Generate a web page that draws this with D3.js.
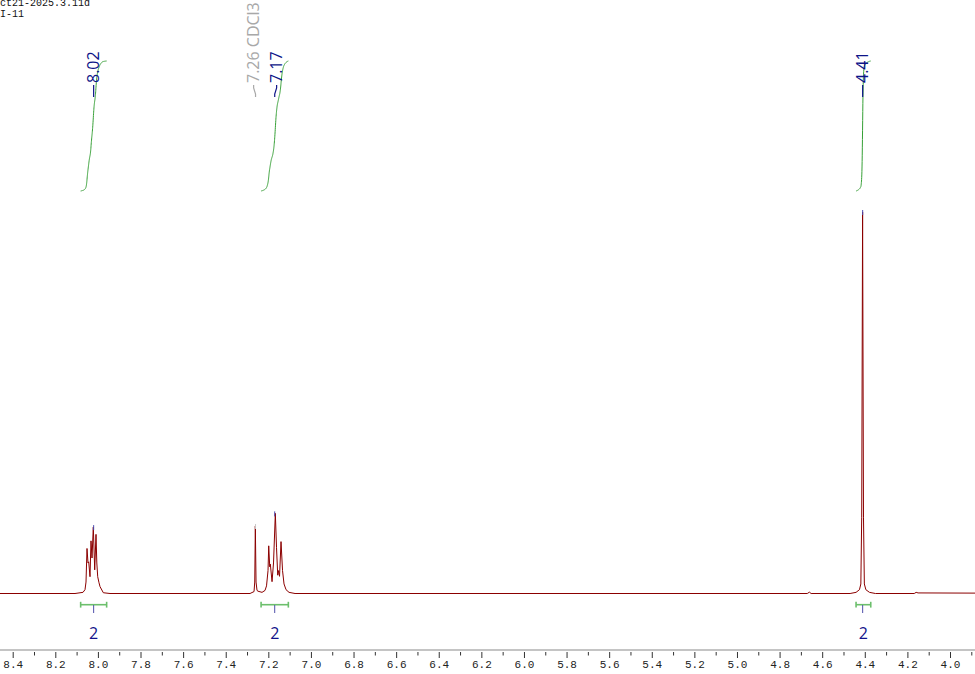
<!DOCTYPE html>
<html><head><meta charset="utf-8">
<script src="https://cdn.jsdelivr.net/npm/d3@7/dist/d3.min.js"></script>
<style>html,body{margin:0;padding:0;background:#fff;overflow:hidden}</style>
</head><body>
<svg id="chart" width="975" height="674"></svg>
<script>
// ---------- DATA ----------
const headerLines = ["ct21-2025.3.11d", "I-11"];
const axisTitle = "f1 (ppm)";

const majorTicks = [8.4, 8.2, 8.0, 7.8, 7.6, 7.4, 7.2, 7.0, 6.8, 6.6, 6.4, 6.2, 6.0, 5.8, 5.6, 5.4, 5.2, 5.0, 4.8, 4.6, 4.4, 4.2, 4.0];
const tickLabels = ["8.4", "8.2", "8.0", "7.8", "7.6", "7.4", "7.2", "7.0", "6.8", "6.6", "6.4", "6.2", "6.0", "5.8", "5.6", "5.4", "5.2", "5.0", "4.8", "4.6", "4.4", "4.2", "4.0"];
const minorTicks = [8.5, 8.3, 8.1, 7.9, 7.7, 7.5, 7.3, 7.1, 6.9, 6.7, 6.5, 6.3, 6.1, 5.9, 5.7, 5.5, 5.3, 5.1, 4.9, 4.7, 4.5, 4.3, 4.1, 3.9];

// spectrum trace: [ppm, relative intensity]
const traceStart = [[8.47, 0]];
const multiplet802 = [
  [8.1075, 0], [8.0700, 0.3], [8.0606, 1.0], [8.0559, 3.0], [8.0512, 11.8], [8.0465, 8.0],
  [8.0432, 8.3], [8.0371, 4.4], [8.0324, 13.8], [8.0277, 9.3], [8.0216, 17.4], [8.0150, 6.2],
  [8.0089, 15.5], [8.0051, 8.0], [8.0009, 4.4], [7.9948, 2.8], [7.9901, 1.8], [7.9746, 0.2], [7.9432, 0]
];
const solvent726 = [
  [7.2859, 0], [7.2671, 0.5], [7.2638, 3.0], [7.2610, 17.7], [7.2577, 3.0], [7.2531, 0.8], [7.2484, 0.6]
];
const multiplet717 = [
  [7.2296, 0.3], [7.2155, 0.8], [7.2085, 2.0], [7.2014, 6.0], [7.1981, 12.5], [7.1934, 7.0],
  [7.1906, 7.7], [7.1826, 3.1], [7.1756, 8.0], [7.1671, 21.0], [7.1615, 12.0], [7.1559, 4.8],
  [7.1521, 6.0], [7.1474, 4.5], [7.1404, 13.6], [7.1333, 6.0], [7.1263, 2.5], [7.1169, 1.0],
  [7.1028, 0.3], [7.0746, 0]
];
const smallBump466 = [[4.670, 0], [4.660, 0.35], [4.652, 0]];
const singlet441 = [
  [4.469, 0], [4.441, 0.3], [4.425, 1.0], [4.4185, 2.5], [4.4145, 20], [4.4103, 100],
  [4.4061, 20], [4.4021, 2.5], [4.395, 1.0], [4.378, 0.3], [4.350, 0]
];
const traceEnd = [[4.168, 0], [4.159, 0.3], [4.150, 0.15], [3.87, 0.1]];

// peak picking
const peakShifts = [8.02, 7.26, 7.17, 4.41];
const peakTexts = ["8.02", "7.26 CDCl3", "7.17", "4.41"];
const peakSolvent = [false, true, false, false];

// integrals
const integralFrom = [8.081, 7.234, 4.441];
const integralTo = [7.959, 7.106, 4.372];
const integralCenters = [8.02, 7.17, 4.41];
const integralValues = ["2", "2", "2"];

// ---------- DRAW ----------
const svg = d3.select("#chart");
const x = d3.scaleLinear().domain([8.4, 4.0]).range([12.7, 950]);
const y = d3.scaleLinear().domain([0, 100]).range([593.5, 212]);

const trace = [].concat(traceStart, multiplet802, solvent726, multiplet717, smallBump466, singlet441, traceEnd)
  .sort((a, b) => b[0] - a[0]);

function valueAt(p) {
  for (let i = 0; i < trace.length - 1; i++) {
    const a = trace[i], b = trace[i + 1];
    if (p <= a[0] && p >= b[0]) {
      const t = (a[0] - p) / (a[0] - b[0]);
      return a[1] + t * (b[1] - a[1]);
    }
  }
  return 0;
}

// header
svg.append("g").selectAll("text").data(headerLines).join("text")
  .attr("x", 0).attr("y", (d, i) => 5.8 + i * 11.2)
  .attr("font-family", "Liberation Mono, monospace").attr("font-size", 10)
  .attr("fill", "#111").text(d => d);

// axis line
svg.append("line").attr("x1", 0).attr("x2", 975).attr("y1", 650).attr("y2", 650)
  .attr("stroke", "#c4c4c4").attr("stroke-width", 2);

const axisMajor = d3.axisBottom(x).tickValues(majorTicks)
  .tickFormat((d, i) => tickLabels[i]).tickSize(6).tickPadding(2);
const gMaj = svg.append("g").attr("transform", "translate(0,652)").call(axisMajor);
gMaj.select(".domain").remove();
gMaj.selectAll("line").attr("stroke", "#333");
gMaj.selectAll("text").attr("font-family", "Liberation Mono, monospace")
  .attr("font-size", 11).attr("fill", "#222");

const axisMinor = d3.axisBottom(x).tickValues(minorTicks).tickFormat("").tickSize(3.5);
const gMin = svg.append("g").attr("transform", "translate(0,652)").call(axisMinor);
gMin.select(".domain").remove();
gMin.selectAll("line").attr("stroke", "#333");

svg.append("text").attr("x", 497).attr("y", 682).attr("text-anchor", "middle")
  .attr("font-family", "Liberation Mono, monospace").attr("font-size", 11)
  .attr("fill", "#777").text(axisTitle);

// spectrum
const line = d3.line().x(d => x(d[0])).y(d => y(d[1]));
svg.append("path").datum(trace).attr("d", line)
  .attr("fill", "none").attr("stroke", "#8b0000").attr("stroke-width", 1)
  .attr("stroke-linejoin", "round");

// integrals
const intTop = 61, intBottom = 191;
integralFrom.forEach((a, k) => {
  const b = integralTo[k];
  const step = 0.0005;
  const pts = [];
  let cum = 0, prev = valueAt(a);
  pts.push([a, 0]);
  for (let p = a - step; p >= b - 1e-9; p -= step) {
    const v = valueAt(p);
    cum += (prev + v) / 2 * step;
    prev = v;
    pts.push([p, cum]);
  }
  const total = cum || 1;
  const iy = d3.scaleLinear().domain([0, total]).range([intBottom, intTop]);
  svg.append("path").datum(pts)
    .attr("d", d3.line().x(d => x(d[0])).y(d => iy(d[1])))
    .attr("fill", "none").attr("stroke", "#36a036").attr("stroke-width", 1);

  // bracket
  const gB = svg.append("g").attr("stroke", "#6cbf6c").attr("stroke-width", 1.6);
  gB.append("line").attr("x1", x(a)).attr("x2", x(b)).attr("y1", 604.7).attr("y2", 604.7);
  gB.append("line").attr("x1", x(a)).attr("x2", x(a)).attr("y1", 601.8).attr("y2", 607.6);
  gB.append("line").attr("x1", x(b)).attr("x2", x(b)).attr("y1", 601.8).attr("y2", 607.6);
  svg.append("line").attr("x1", x(integralCenters[k])).attr("x2", x(integralCenters[k]))
    .attr("y1", 605).attr("y2", 613).attr("stroke", "#5050aa").attr("stroke-width", 1);
  svg.append("text").attr("x", (x(a) + x(b)) / 2).attr("y", 638.5)
    .attr("text-anchor", "middle").attr("font-family", "Open Sans, sans-serif")
    .attr("font-size", 16).attr("fill", "#12128a").text(integralValues[k]);
});

// peak labels with spreading
const px = peakShifts.map(s => x(s));
const lx = px.slice();
const minGap = 23;
for (let iter = 0; iter < 5; iter++) {
  for (let i = 0; i < lx.length - 1; i++) {
    const gap = lx[i + 1] - lx[i];
    if (gap < minGap) {
      const d = (minGap - gap) / 2;
      lx[i] -= d; lx[i + 1] += d;
    }
  }
}
peakShifts.forEach((s, i) => {
  const col = peakSolvent[i] ? "#a8a8a8" : "#0d1488";
  svg.append("path")
    .attr("d", `M${px[i]},97 L${px[i]},94 L${lx[i]},88 L${lx[i]},85`)
    .attr("fill", "none").attr("stroke", col).attr("stroke-width", 1.2);
  svg.append("text")
    .attr("transform", `translate(${lx[i] + 5.6},83) rotate(-90)`)
    .attr("font-family", "Open Sans, sans-serif").attr("font-size", 16)
    .attr("fill", col).text(peakTexts[i]);
  // marker on the peak top
  let best = 0;
  trace.forEach(d => { if (Math.abs(d[0] - s) <= 0.0035 && d[1] > best) best = d[1]; });
  svg.append("line").attr("x1", px[i]).attr("x2", px[i])
    .attr("y1", y(best) - 2).attr("y2", y(best) + 3)
    .attr("stroke", peakSolvent[i] ? "#c8c8c8" : "#4a4ab0").attr("stroke-width", 1);
});
</script>
</body></html>
